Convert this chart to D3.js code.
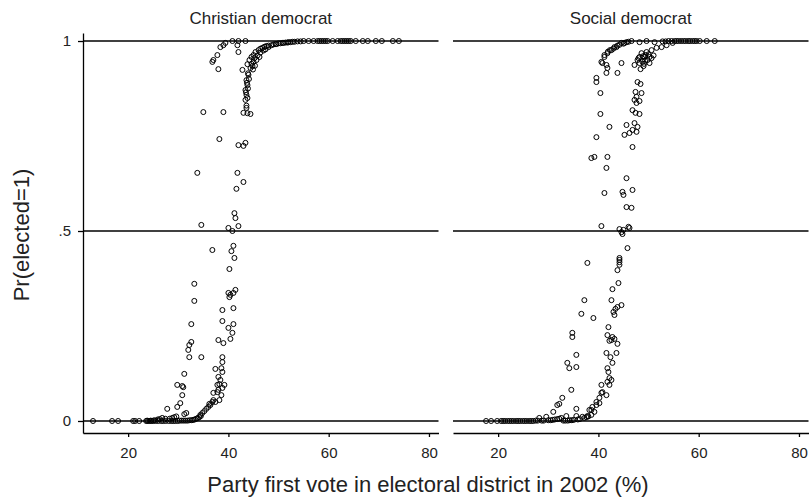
<!DOCTYPE html>
<html>
<head>
<meta charset="utf-8">
<script src="https://cdn.jsdelivr.net/npm/d3@7"></script>
<style>
  body { margin: 0; background: #fff; }
  svg { display: block; font-family: "Liberation Sans", Arial, sans-serif; }
</style>
</head>
<body>
<script>
// panel titles, ticks
const panelTitles = ["Christian democrat", "Social democrat"]
const xTicks = [20, 40, 60, 80]
const yTicks = [0, 0.5, 1]
const yTickLabels = ["0", ".5", "1"]

// [first vote %, Pr(elected=1)]
const cduPoints = [
  [13.0, 0], [16.8, 0], [18.0, 0], [21.0, 0], [21.4, 0], [22.2, 0], [23.6, 0], [24.0, 0], [24.3, 0], [24.7, 0],
  [25.0, 0], [25.5, 0], [26.0, 0], [26.6, 0], [27.0, 0], [27.5, 0], [28.1, 0], [28.6, 0], [29.0, 0], [29.4, 0],
  [29.9, 0], [30.3, 0.001], [30.7, 0.001], [31.1, 0.001], [31.5, 0.001], [31.9, 0.001], [32.3, 0.002], [32.7, 0.002],
  [33.0, 0.003], [33.3, 0.004], [33.6, 0.006], [33.9, 0.008], [34.2, 0.01], [34.5, 0.013],
  [23.8, 0.001], [24.5, 0.001], [25.2, 0.002], [25.9, 0.004], [26.3, 0.005], [26.8, 0.008], [27.4, 0.006],
  [27.8, 0.032], [28.3, 0.006], [28.8, 0.008], [29.2, 0.01], [29.6, 0.012],
  // lower-vote curve
  [29.8, 0.095], [30.8, 0.092], [31.0, 0.089], [30.8, 0.068], [30.4, 0.047], [29.8, 0.037], [31.2, 0.018],
  [31.6, 0.021], [31.2, 0.124], [32.6, 0.208], [32.2, 0.2], [32.0, 0.187], [32.2, 0.168], [34.6, 0.168],
  [32.6, 0.255], [33.2, 0.316], [33.2, 0.361], [34.6, 0.516], [33.8, 0.653], [35.0, 0.813], [39.0, 0.813],
  [38.2, 0.742], [38.0, 0.926], [36.8, 0.945], [37.0, 0.95], [37.8, 0.963], [38.4, 0.984], [39.0, 0.989],
  [39.4, 0.995], [40.8, 1.0], [42.0, 1.0], [43.4, 1.0], [41.8, 0.989], [42.0, 0.971],
  // higher-vote curve
  [34.4, 0.016], [34.8, 0.021], [35.2, 0.026], [35.6, 0.032], [36.0, 0.037], [36.2, 0.045], [36.4, 0.042],
  [36.8, 0.05], [37.0, 0.055], [37.4, 0.05], [37.0, 0.074], [37.8, 0.076], [38.0, 0.082], [37.8, 0.095],
  [39.2, 0.095], [38.2, 0.097], [38.8, 0.087], [38.6, 0.068], [38.2, 0.055], [38.4, 0.108], [38.0, 0.116],
  [38.8, 0.129], [37.4, 0.137], [38.6, 0.139], [38.8, 0.155], [38.8, 0.168], [39.0, 0.205], [38.0, 0.213],
  [40.4, 0.216], [40.8, 0.232], [40.0, 0.245], [41.0, 0.255], [38.8, 0.263], [38.8, 0.292], [41.0, 0.297],
  [40.2, 0.326], [40.4, 0.332], [40.0, 0.337], [41.0, 0.337], [41.4, 0.345], [40.2, 0.4], [41.2, 0.429],
  [40.6, 0.447], [41.0, 0.461], [36.8, 0.45], [40.8, 0.5], [42.0, 0.513], [40.0, 0.508], [41.4, 0.534],
  [41.2, 0.547], [41.6, 0.611], [43.0, 0.629], [41.8, 0.653], [43.0, 0.724], [43.4, 0.732], [42.0, 0.726],
  [43.0, 0.811], [43.8, 0.81], [44.4, 0.808], [43.6, 0.824], [43.6, 0.83], [43.4, 0.845], [43.8, 0.85],
  [43.6, 0.858], [43.5, 0.865], [43.4, 0.871], [43.9, 0.875], [43.8, 0.884], [43.7, 0.89], [43.6, 0.897],
  [44.1, 0.9], [44.0, 0.911], [43.9, 0.915], [42.8, 0.924], [44.9, 0.925], [44.4, 0.929], [44.8, 0.934],
  [45.3, 0.935], [43.8, 0.939], [44.6, 0.94], [45.0, 0.945], [44.2, 0.95], [45.6, 0.95], [45.2, 0.955],
  [44.6, 0.958], [46.2, 0.958], [45.8, 0.962], [45.0, 0.963], [46.4, 0.97], [45.4, 0.971], [47.0, 0.975],
  [46.0, 0.976], [47.4, 0.978], [46.4, 0.98], [46.8, 0.982], [48.0, 0.984], [47.2, 0.985], [47.6, 0.987],
  [48.0, 0.988], [48.6, 0.989], [49.0, 0.991], [49.6, 0.992], [49.4, 0.992], [50.0, 0.994], [50.4, 0.994],
  [50.8, 0.995], [51.0, 0.995], [51.4, 0.996], [51.8, 0.996], [52.0, 0.997], [52.4, 0.997], [52.8, 0.998],
  [53.2, 0.998], [53.8, 0.999], [54.4, 0.999],
  // top row
  [55.0, 1], [56.0, 1], [57.0, 1], [57.8, 1], [58.2, 1], [58.6, 1], [59.0, 1], [59.4, 1], [59.8, 1],
  [60.8, 1], [61.8, 1], [62.4, 1], [62.8, 1], [63.2, 1], [63.6, 1], [64.0, 1], [64.4, 1], [65.4, 1],
  [66.8, 1], [67.8, 1], [69.4, 1], [70.6, 1], [72.8, 1], [74.0, 1]
]

const spdPoints = [
  [17.6, 0], [18.6, 0], [19.8, 0], [20.6, 0], [21.0, 0], [21.4, 0], [21.9, 0], [22.3, 0], [22.7, 0], [23.1, 0],
  [23.6, 0], [24.0, 0], [24.4, 0], [24.9, 0], [25.3, 0], [25.7, 0], [26.2, 0], [26.6, 0], [27.0, 0], [27.5, 0.001],
  [27.9, 0.001], [28.2, 0.008], [28.7, 0.001], [29.1, 0.001], [29.6, 0.011], [30.0, 0.002], [30.5, 0.002],
  [30.9, 0.003], [31.3, 0.004], [31.8, 0.005], [32.2, 0.006], [32.6, 0.008], [33.0, 0.001], [33.4, 0.001],
  [33.6, 0.013], [33.9, 0.001], [34.3, 0.002], [34.7, 0.002], [35.1, 0.003], [35.6, 0.013], [35.9, 0.004],
  [36.3, 0.005], [36.8, 0.011], [37.2, 0.008], [37.6, 0.01], [38.0, 0.012],
  // lower-vote curve
  [31.0, 0.024], [31.8, 0.042], [32.2, 0.045], [32.8, 0.061], [34.6, 0.082], [35.6, 0.032], [33.8, 0.153],
  [34.2, 0.139], [35.6, 0.142], [35.6, 0.174], [34.8, 0.221], [34.8, 0.232], [36.6, 0.282], [37.2, 0.318],
  [39.0, 0.271], [37.8, 0.416], [40.6, 0.513], [41.2, 0.6], [41.6, 0.666], [38.6, 0.692], [39.2, 0.695],
  [41.8, 0.695], [39.6, 0.747], [42.2, 0.774], [40.4, 0.808], [40.4, 0.863], [39.6, 0.892], [39.6, 0.903],
  [41.6, 0.916], [43.8, 0.916], [41.8, 0.929], [41.6, 0.937], [40.6, 0.945], [40.8, 0.942], [44.6, 0.942],
  [41.2, 0.958], [41.2, 0.963], [41.8, 0.968], [41.9, 0.972], [42.3, 0.976], [42.6, 0.976], [43.0, 0.98],
  [43.2, 0.984], [43.6, 0.984], [43.8, 0.988], [44.2, 0.99], [45.0, 0.993], [44.6, 0.995], [45.2, 0.995],
  [45.6, 0.997], [46.0, 0.998], [46.6, 1.0],
  // higher-vote curve
  [37.8, 0.013], [38.6, 0.016], [39.2, 0.024], [38.2, 0.029], [38.6, 0.029], [38.8, 0.037], [39.6, 0.042],
  [39.6, 0.05], [40.2, 0.047], [40.2, 0.061], [40.6, 0.074], [41.6, 0.068], [40.8, 0.076], [40.6, 0.095],
  [42.2, 0.095], [41.8, 0.103], [42.6, 0.108], [42.2, 0.113], [42.0, 0.129], [41.8, 0.139], [42.8, 0.153],
  [42.4, 0.168], [41.6, 0.179], [43.6, 0.179], [43.8, 0.203], [42.2, 0.211], [42.6, 0.213], [43.2, 0.216],
  [42.8, 0.221], [41.8, 0.226], [42.0, 0.247], [43.2, 0.279], [43.0, 0.287], [43.4, 0.295], [43.8, 0.3],
  [44.6, 0.305], [42.6, 0.318], [42.8, 0.347], [44.0, 0.363], [43.8, 0.397], [44.2, 0.411], [44.2, 0.418],
  [44.2, 0.424], [44.2, 0.429], [45.8, 0.455], [44.8, 0.492], [44.6, 0.497], [45.0, 0.503], [44.2, 0.505],
  [46.2, 0.508], [46.0, 0.511], [46.6, 0.561], [45.6, 0.563], [45.0, 0.595], [44.8, 0.603], [46.8, 0.608],
  [45.6, 0.639], [46.8, 0.721], [45.2, 0.753], [46.2, 0.758], [47.6, 0.761], [46.8, 0.766], [47.8, 0.774],
  [45.6, 0.779], [47.2, 0.784], [48.2, 0.808], [47.4, 0.811], [46.8, 0.818], [47.6, 0.837], [48.2, 0.842],
  [47.2, 0.845], [47.6, 0.853], [48.6, 0.863], [47.4, 0.866], [48.4, 0.887], [47.8, 0.892], [48.4, 0.926],
  [49.0, 0.934], [47.2, 0.937], [48.2, 0.942], [50.2, 0.942], [49.1, 0.94], [48.8, 0.945], [49.3, 0.948],
  [47.8, 0.95], [49.8, 0.95], [48.0, 0.955], [50.6, 0.955], [48.2, 0.958], [49.2, 0.958], [50.2, 0.958],
  [48.9, 0.96], [51.0, 0.962], [49.4, 0.963], [50.0, 0.965], [48.6, 0.968], [49.6, 0.971], [50.6, 0.976],
  [51.6, 0.982], [52.6, 0.984], [53.6, 0.989], [54.8, 0.995], [48.2, 0.997], [49.6, 1.0], [51.2, 0.997],
  // top row
  [52.8, 0.999], [53.4, 0.999], [54.0, 1], [54.6, 1], [55.2, 1], [55.6, 1], [56.0, 1], [56.5, 1], [57.0, 1],
  [57.4, 1], [57.9, 1], [58.3, 1], [58.8, 1], [59.2, 1], [59.6, 1], [60.2, 1], [61.6, 1], [63.2, 1]
]

const width = 810
const height = 502
const panelRanges = [[83, 438.5], [453, 808.5]]

const svg = d3.select("body").append("svg")
  .attr("width", width)
  .attr("height", height)

// plot frame runs a little past 0 and 1
const y = d3.scaleLinear().domain([-0.0316, 1.0211]).range([433, 33])

const panels = [
  { title: panelTitles[0], points: cduPoints, range: panelRanges[0], yAxis: true },
  { title: panelTitles[1], points: spdPoints, range: panelRanges[1], yAxis: false }
]

panels.forEach(p => {
  let x = d3.scaleLinear().domain([11, 81.9]).range(p.range)
  let g = svg.append("g")

  // horizontal lines at the y ticks
  g.selectAll("line.grid")
    .data(yTicks).enter()
    .append("line")
      .attr("class", "grid")
      .attr("x1", p.range[0])
      .attr("x2", p.range[1])
      .attr("y1", d => y(d))
      .attr("y2", d => y(d))
      .attr("stroke", "#000")
      .attr("stroke-width", 1.3)

  let xAxis = g.append("g")
    .attr("transform", "translate(0,433)")
    .call(d3.axisBottom(x).tickValues(xTicks).tickSize(4).tickSizeOuter(0).tickPadding(10))
  xAxis.selectAll("path, line").attr("stroke", "#000").attr("stroke-width", 1.3)
  xAxis.selectAll("text").attr("font-size", 15).attr("font-family", null).attr("fill", "#222")

  if (p.yAxis) {
    let yAxis = g.append("g")
      .attr("transform", "translate(" + p.range[0] + ",0)")
      .call(d3.axisLeft(y).tickValues(yTicks).tickFormat((d, i) => yTickLabels[i])
        .tickSize(5).tickSizeOuter(0).tickPadding(7))
    yAxis.selectAll("path, line").attr("stroke", "#000").attr("stroke-width", 1.3)
    yAxis.selectAll("text").attr("font-size", 15).attr("font-family", null).attr("fill", "#222")
  }

  g.append("text")
    .attr("x", (p.range[0] + p.range[1]) / 2)
    .attr("y", 24)
    .attr("text-anchor", "middle")
    .attr("font-size", 17)
    .attr("fill", "#222")
    .text(p.title)

  g.selectAll("circle")
    .data(p.points).enter()
    .append("circle")
      .attr("cx", d => x(d[0]))
      .attr("cy", d => y(d[1]))
      .attr("r", 2.5)
      .attr("fill", "none")
      .attr("stroke", "#000")
      .attr("stroke-width", 1)
})

svg.append("text")
  .attr("x", 428)
  .attr("y", 492)
  .attr("text-anchor", "middle")
  .attr("font-size", 22)
  .attr("fill", "#222")
  .text("Party first vote in electoral district in 2002 (%)")

svg.append("text")
  .attr("transform", "translate(29,235) rotate(-90)")
  .attr("text-anchor", "middle")
  .attr("font-size", 22)
  .attr("fill", "#222")
  .text("Pr(elected=1)")
</script>
</body>
</html>
